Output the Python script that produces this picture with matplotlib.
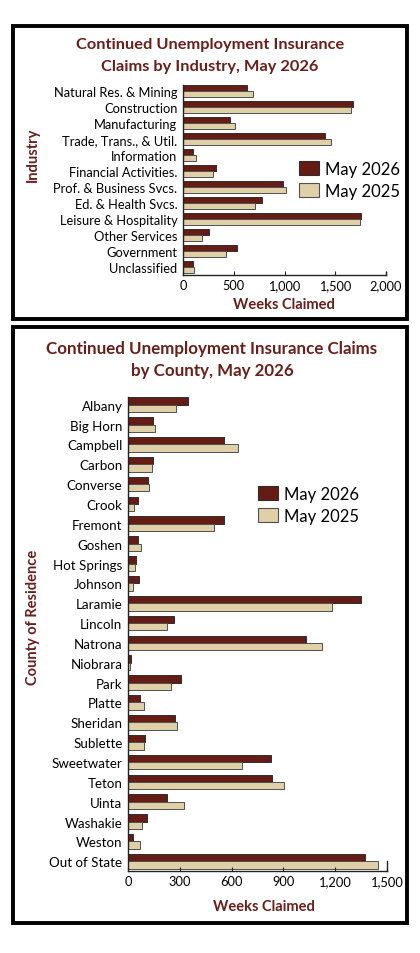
import matplotlib
matplotlib.use("Agg")
import matplotlib.pyplot as plt
import numpy as np
from matplotlib.patches import Rectangle, Patch

plt.rcParams['font.family'] = ['Lato', 'DejaVu Sans']

industries = ["Natural Res. & Mining", "Construction", "Manufacturing",
              "Trade, Trans., & Util.", "Information", "Financial Activities.",
              "Prof. & Business Svcs.", "Ed. & Health Svcs.", "Leisure & Hospitality",
              "Other Services", "Government", "Unclassified"]
ind_2026 = [635, 1671, 460, 1398, 102, 326, 987, 780, 1750, 253, 533, 95]
ind_2025 = [694, 1655, 513, 1454, 125, 299, 1010, 714, 1740, 188, 428, 105]
ind_ticks = [0, 500, 1000, 1500, 2000]

counties = ["Albany", "Big Horn", "Campbell", "Carbon", "Converse", "Crook",
            "Fremont", "Goshen", "Hot Springs", "Johnson", "Laramie", "Lincoln",
            "Natrona", "Niobrara", "Park", "Platte", "Sheridan", "Sublette",
            "Sweetwater", "Teton", "Uinta", "Washakie", "Weston", "Out of State"]
cty_2026 = [346, 145, 554, 143, 114, 56, 558, 56, 44, 66, 1347, 264,
            1033, 19, 307, 68, 272, 98, 826, 832, 224, 108, 27, 1371]
cty_2025 = [278, 158, 639, 139, 124, 35, 496, 77, 42, 27, 1183, 224,
            1125, 10, 251, 93, 286, 95, 662, 902, 326, 83, 71, 1450]
cty_ticks = [0, 300, 600, 900, 1200, 1500]

series_names = ["May 2026", "May 2025"]
DARK = "#651C15"
TAN = "#DFD0A7"
EDGE = "#2e2e2e"
EDGE2 = "#505050"
TITLE = "#6B1E1A"

W, H = 420, 954
fig = plt.figure(figsize=(W / 100, H / 100), dpi=100)
fig.patch.set_facecolor("white")

def fx(px):
    return px / W

def fy(py):
    return 1 - py / H

# frame boxes
for (x0, y0, x1, y1) in [(13, 27, 407, 320), (13, 328, 407, 924)]:
    fig.patches.append(Rectangle((fx(x0), fy(y1)), fx(x1) - fx(x0), fy(y0) - fy(y1),
                                 transform=fig.transFigure, fill=False,
                                 edgecolor="black", linewidth=2.8, zorder=0))


def draw(ax, cats, v1, v2, ticks, bh, fs_lab, fs_tick):
    y = np.arange(len(cats))
    ax.barh(y - bh / 2, v1, height=bh, color=DARK, edgecolor=EDGE, linewidth=0.7)
    ax.barh(y + bh / 2, v2, height=bh, color=TAN, edgecolor=EDGE2, linewidth=0.7)
    ax.set_yticks(y)
    ax.set_yticklabels(cats, fontsize=fs_lab)
    ax.set_ylim(len(cats) - 1 + bh + 0.12, -bh - 0.02)
    ax.set_xlim(0, ticks[-1])
    ax.set_xticks(ticks)
    ax.set_xticklabels([f"{t:,}" for t in ticks], fontsize=fs_tick)
    ax.tick_params(axis='y', length=0, pad=4)
    ax.tick_params(axis='x', direction='in', length=3, width=0.8, pad=3, color="#222222")
    ax.spines['top'].set_visible(False)
    for s in ['left', 'bottom', 'right']:
        ax.spines[s].set_linewidth(1.0)
        ax.spines[s].set_color("#222222")
    ax.set_facecolor("white")


# top chart
ax1 = fig.add_axes([fx(183), fy(276), fx(386) - fx(183), fy(86) - fy(276)])
draw(ax1, industries, ind_2026, ind_2025, ind_ticks, 0.38, 9.3, 9.2)
ax1.spines['right'].set_bounds(11.5, 11.3)

fig.text(fx(210), fy(45), "Continued Unemployment Insurance", ha="center", va="center",
         fontsize=11.8, fontweight="bold", color=TITLE)
fig.text(fx(210), fy(67), "Claims by Industry, May 2026", ha="center", va="center",
         fontsize=11.8, fontweight="bold", color=TITLE)
fig.text(fx(284), fy(305), "Weeks Claimed", ha="center", va="center",
         fontsize=10.5, fontweight="bold", color=TITLE)
fig.text(fx(33), fy(155), "Industry", ha="center", va="center", rotation=90,
         fontsize=10.5, fontweight="bold", color=TITLE)

handles = [Patch(facecolor=DARK, edgecolor=EDGE, linewidth=0.8),
           Patch(facecolor=TAN, edgecolor=EDGE2, linewidth=0.8)]
leg_kw = dict(loc="center left", frameon=False, fontsize=12,
              handlelength=1.2, handleheight=0.9, labelspacing=0.35, handletextpad=0.35,
              borderpad=0, borderaxespad=0)
fig.legend(handles, series_names, bbox_to_anchor=(fx(299), fy(181)), **leg_kw)

# bottom chart
ax2 = fig.add_axes([fx(128), fy(872), fx(387) - fx(128), fy(398) - fy(872)])
draw(ax2, counties, cty_2026, cty_2025, cty_ticks, 0.37, 9.6, 9.3)
ax2.spines['right'].set_bounds(23.49, 23.0)

fig.text(fx(212), fy(349), "Continued Unemployment Insurance Claims", ha="center",
         va="center", fontsize=12.2, fontweight="bold", color=TITLE)
fig.text(fx(212), fy(371), "by County, May 2026", ha="center", va="center",
         fontsize=12.2, fontweight="bold", color=TITLE)
fig.text(fx(264), fy(907), "Weeks Claimed", ha="center", va="center",
         fontsize=10.5, fontweight="bold", color=TITLE)
fig.text(fx(33), fy(617), "County of Residence", ha="center", va="center", rotation=90,
         fontsize=10.5, fontweight="bold", color=TITLE)

fig.legend(handles, series_names, bbox_to_anchor=(fx(258), fy(506)), **leg_kw)

fig.savefig("out.png", dpi=100, facecolor="white")
